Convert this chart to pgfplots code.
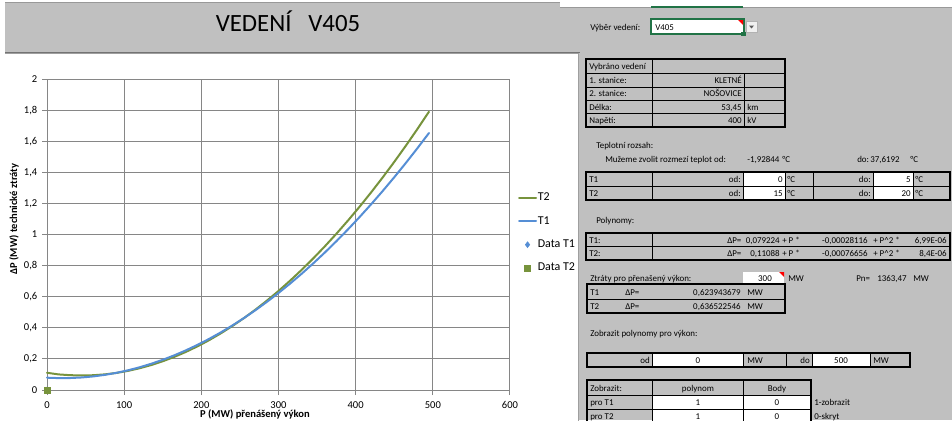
\documentclass[border=0pt]{standalone}
\usepackage{fontspec}
\setmainfont{Carlito}
\usepackage{pgfplots}
\pgfplotsset{compat=1.18}

\definecolor{xlgray}{RGB}{192,192,192}
\definecolor{gridg}{RGB}{134,134,134}
\definecolor{t1blue}{RGB}{85,142,213}
\definecolor{t2green}{RGB}{119,147,60}
\definecolor{xlgreen}{RGB}{33,115,70}

\newcommand{\cf}{\fontsize{6.7}{8}\selectfont}
\newcommand{\chf}{\fontsize{7.9}{9.5}\selectfont}
\newcommand{\lgf}{\fontsize{9}{10.5}\selectfont}

\tikzset{
  c/.style={font=\cf, inner sep=0pt, anchor=mid west},
  r/.style={font=\cf, inner sep=0pt, anchor=mid east},
  m/.style={font=\cf, inner sep=0pt, anchor=mid},
  tl/.style={line width=0.75pt},
  tk/.style={line width=1.5pt},
}

\begin{document}
\begin{tikzpicture}
% sheet, drawn in screen pixels (origin top left)
\begin{scope}[x=0.75pt, y=-0.75pt]
  \useasboundingbox (0,0) rectangle (952,420);
  \fill[white] (0,0) rectangle (952,420);
  \fill[xlgray] (5,2) rectangle (952,420);
  \fill[white] (560,0) rectangle (952,7);
  \draw[gray!80, tl] (5,2) -- (560,2);
  \draw[gray!80, tl] (560,7) -- (952,7);
  \draw[xlgreen, tk] (651,7) -- (743,7);
  \draw[gray!90!black, tl] (5,52) -- (580,52);
  % chart area
  \fill[white] (5,53) rectangle (578,421);
  \draw[gray!75, tl] (5,53) -- (578,53) -- (578,421);
  \node[font=\fontsize{18.6}{22}\selectfont, anchor=base, inner sep=0pt] at (288,31) {VEDENÍ\ \ \ V405};

  % line selector
  \node[c] at (590,27) {Výběr vedení:};
  \fill[white] (651,19) rectangle (744,34);
  \draw[xlgreen, tk] (651,19) rectangle (744,34);
  \node[c] at (655,27) {V405};
  \fill[red] (738,20) -- (743,20) -- (743,25) -- cycle;
  \fill[xlgreen] (741,32) rectangle (746,36);
  \fill[gray!12] (746,21) rectangle (757,32);
  \draw[gray!60, tl] (746,21) rectangle (757,32);
  \fill[gray!70!black] (749,25.5) -- (754,25.5) -- (751.5,28.5) -- cycle;

  % table: selected line
  \draw[tl] (586,73) -- (785,73) (586,87) -- (785,87) (586,100) -- (785,100) (586,113) -- (785,113);
  \draw[tl] (652,59) -- (652,127) (744,73) -- (744,127);
  \draw[tk] (586,59) rectangle (785,127);
  \node[c] at (589,66) {Vybráno vedení};
  \node[c] at (589,80) {1. stanice:};   \node[r] at (742,80) {KLETNÉ};
  \node[c] at (589,93.5) {2. stanice:}; \node[r] at (742,93.5) {NOŠOVICE};
  \node[c] at (589,107) {Délka:};       \node[r] at (742,107) {53,45}; \node[c] at (747,107) {km};
  \node[c] at (589,120) {Napětí:};      \node[r] at (742,120) {400};   \node[c] at (747,120) {kV};

  % temperature range
  \node[c] at (596,145) {Teplotní rozsah:};
  \node[c] at (605,159) {Mužeme zvolit rozmezí teplot od:};
  \node[c] at (747,159) {-1,92844}; \node[c] at (782,159) {°C};
  \node[c] at (857,159) {do:}; \node[c] at (870,159) {37,6192}; \node[c] at (910,159) {°C};
  \fill[white] (743,172) rectangle (785,200);
  \fill[white] (873,172) rectangle (913,200);
  \draw[tl] (586,186) -- (950,186);
  \draw[tl] (652,172) -- (652,200) (743,172) -- (743,200) (785,172) -- (785,200)
            (813,172) -- (813,200) (873,172) -- (873,200) (913,172) -- (913,200);
  \draw[tk] (586,172) rectangle (950,200);
  \node[c] at (589,179) {T1}; \node[r] at (741,179) {od:}; \node[r] at (783,179) {0};
  \node[c] at (787,179) {°C}; \node[r] at (871,179) {do:}; \node[r] at (911,179) {5}; \node[c] at (915,179) {°C};
  \node[c] at (589,193) {T2}; \node[r] at (741,193) {od:}; \node[r] at (783,193) {15};
  \node[c] at (787,193) {°C}; \node[r] at (871,193) {do:}; \node[r] at (911,193) {20}; \node[c] at (915,193) {°C};

  % polynomials
  \node[c] at (596,220) {Polynomy:};
  \draw[tl] (586,246.5) -- (950,246.5) (652,233) -- (652,260);
  \draw[tk] (586,233) rectangle (950,260);
  \node[c] at (589,240) {T1:}; \node[c] at (727,240) {ΔP=}; \node[r] at (780,240) {0,079224};
  \node[c] at (782,240) {+ P *}; \node[r] at (868,240) {-0,00028116};
  \node[c] at (873,240) {+ P\textasciicircum 2 *}; \node[r] at (947,240) {6,99E-06};
  \node[c] at (589,253) {T2:}; \node[c] at (727,253) {ΔP=}; \node[r] at (780,253) {0,11088};
  \node[c] at (782,253) {+ P *}; \node[r] at (868,253) {-0,00076656};
  \node[c] at (873,253) {+ P\textasciicircum 2 *}; \node[r] at (947,253) {8,4E-06};

  % losses for a given power
  \node[c] at (590,278) {Ztráty pro přenašený výkon:};
  \fill[white] (743,272) rectangle (784,284);
  \fill[red] (779,272) -- (784,272) -- (784,277) -- cycle;
  \node[m] at (765,278) {300}; \node[c] at (788,278) {MW};
  \node[c] at (856,278) {Pn=}; \node[c] at (877,278) {1363,47}; \node[c] at (913,278) {MW};
  \draw[tl] (587,299) -- (785,299);
  \draw[tk] (587,284) rectangle (785,313);
  \node[c] at (590,292) {T1}; \node[c] at (625,292) {ΔP=}; \node[r] at (741,292) {0,623943679}; \node[c] at (747,292) {MW};
  \node[c] at (590,306) {T2}; \node[c] at (625,306) {ΔP=}; \node[r] at (741,306) {0,636522546}; \node[c] at (747,306) {MW};

  % power range
  \node[c] at (590,333) {Zobrazit polynomy pro výkon:};
  \fill[white] (652,353) rectangle (743,367);
  \fill[white] (812,353) rectangle (870,367);
  \draw[tl] (652,353) -- (652,367) (743,353) -- (743,367) (786,353) -- (786,367)
            (812,353) -- (812,367) (870,353) -- (870,367);
  \draw[tk] (587,353) rectangle (910,367);
  \node[r] at (650,360) {od}; \node[m] at (698,360) {0}; \node[c] at (747,360) {MW};
  \node[r] at (810,360) {do}; \node[m] at (841,360) {500}; \node[c] at (873,360) {MW};

  % display switches
  \fill[white] (652,395) rectangle (811,421);
  \draw[tl] (587,395) -- (811,395) (587,409) -- (811,409) (652,380) -- (652,421) (743,380) -- (743,421);
  \draw[tk] (587,421) -- (587,380) -- (811,380) -- (811,421);
  \node[c] at (590,388) {Zobrazit:}; \node[m] at (698,388) {polynom}; \node[m] at (777,388) {Body};
  \node[c] at (590,402) {pro T1}; \node[m] at (698,402) {1}; \node[m] at (777,402) {0}; \node[c] at (814,402) {1-zobrazit};
  \node[c] at (590,416) {pro T2}; \node[m] at (698,416) {1}; \node[m] at (777,416) {0}; \node[c] at (814,416) {0-skryt};
\end{scope}

\begin{axis}[
  at={(35.25pt,-292.5pt)}, anchor=south west,
  scale only axis, width=347.25pt, height=233.25pt,
  xmin=0, xmax=600, ymin=0, ymax=2,
  xtick={0,100,200,300,400,500,600},
  ytick={0,0.2,0.4,0.6,0.8,1,1.2,1.4,1.6,1.8,2},
  grid=major, grid style={gridg, line width=0.75pt},
  axis line style={gridg, line width=0.75pt},
  tick style={gridg, line width=0.75pt},
  tick align=outside, major tick length=3.75pt,
  xtick pos=lower, ytick pos=left,
  tick label style={font=\chf, black},
  xticklabel style={yshift=-1.5pt},
  /pgf/number format/assume math mode=true,
  /pgf/number format/use comma,
  xlabel={\textbf{P (MW) přenášený výkon}},
  ylabel={\textbf{ΔP (MW) technické ztráty}},
  label style={font=\chf},
  xlabel style={at={(axis description cs:0.449,-0.0772)}, anchor=center},
  ylabel style={at={(axis description cs:-0.071,0.55)}, anchor=center},
  clip=false,
  legend cell align=left,
  legend image code/.code={\draw[mark repeat=2, mark phase=2, #1] plot coordinates {(0pt,0pt) (6.4pt,0pt) (12.75pt,0pt)};},
  legend style={at={(axis description cs:1.0173,0.5048)}, anchor=west,
    draw=none, fill=none, inner sep=0pt, outer sep=0pt, font=\lgf,
    row sep=9pt, nodes={inner sep=0.6pt}},
]
\addplot[t2green, line width=1.5pt, line cap=round, line join=round] coordinates {
  (0,0.1109) (15,0.1003) (30,0.0954) (45,0.0934) (60,0.0951) (75,0.1006)
  (90,0.1099) (105,0.1230) (120,0.1399) (135,0.1605) (150,0.1849) (165,0.2131)
  (180,0.2451) (195,0.2808) (210,0.3203) (225,0.3637) (240,0.4108) (255,0.4616)
  (270,0.5163) (285,0.5747) (300,0.6369) (315,0.7029) (330,0.7727) (345,0.8462)
  (360,0.9236) (375,1.0047) (390,1.0896) (405,1.1782) (420,1.2707) (435,1.3669)
  (450,1.4669) (465,1.5707) (480,1.6783) (495,1.7896)
};
\addlegendentry{T2}
\addplot[t1blue, line width=1.5pt, line cap=round, line join=round] coordinates {
  (0,0.0792) (15,0.0766) (30,0.0771) (45,0.0807) (60,0.0875) (75,0.0975)
  (90,0.1105) (105,0.1268) (120,0.1461) (135,0.1687) (150,0.1943) (165,0.2231)
  (180,0.2551) (195,0.2902) (210,0.3284) (225,0.3698) (240,0.4144) (255,0.4621)
  (270,0.5129) (285,0.5669) (300,0.6240) (315,0.6842) (330,0.7477) (345,0.8142)
  (360,0.8839) (375,0.9568) (390,1.0328) (405,1.1119) (420,1.1942) (435,1.2796)
  (450,1.3682) (465,1.4599) (480,1.5548) (495,1.6528)
};
\addlegendentry{T1}
\addplot[only marks, mark=diamond*, mark size=2.2pt, t1blue] coordinates {(0,0)};
\addlegendentry{Data T1}
\addplot[only marks, mark=square*, mark size=2.4pt, t2green] coordinates {(0,0)};
\addlegendentry{Data T2}
\end{axis}
\end{tikzpicture}
\end{document}
